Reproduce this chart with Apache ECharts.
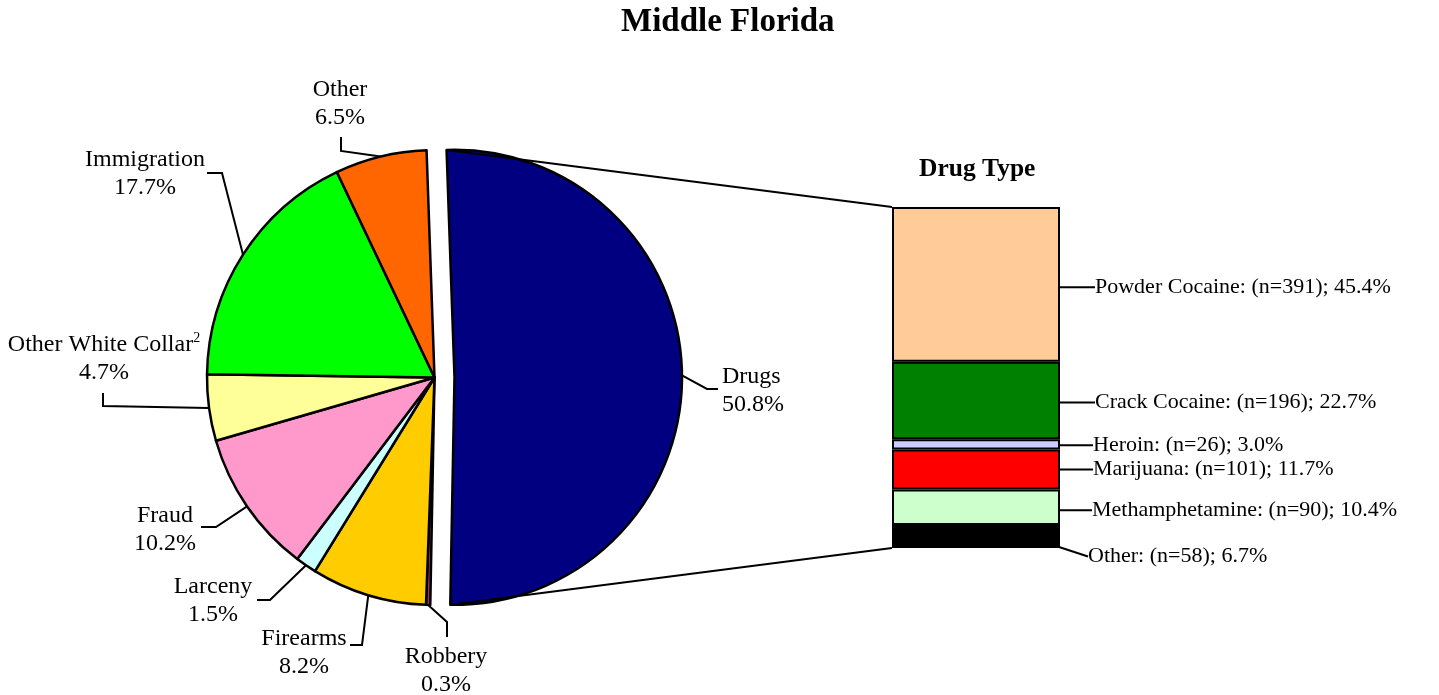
<!DOCTYPE html>
<html><head><meta charset="utf-8">
<script src="https://cdn.jsdelivr.net/npm/echarts@6/dist/echarts.min.js"></script>
<style>html,body{margin:0;padding:0;background:#fff}#c{width:1439px;height:695px}</style>
</head><body><div id="c"></div>
<script>
// ---- data ----
const offenseNames = ['Drugs','Robbery','Firearms','Larceny','Fraud','Other White Collar','Immigration','Other'];
const offensePct = [50.8,0.3,8.2,1.5,10.2,4.7,17.7,6.5];
const offenseColors = ['#000080','#993366','#FFCC00','#CCFFFF','#FF99CC','#FFFF99','#00FF00','#FF6600'];
const footnotes = {'Other White Collar':'2'};
const explodedName = 'Drugs';
const drugNames = ['Other','Methamphetamine','Marijuana','Heroin','Crack Cocaine','Powder Cocaine'];
const drugN = [58,90,101,26,196,391];
const drugPct = [6.7,10.4,11.7,3.0,22.7,45.4];
const drugColors = ['#000000','#CCFFCC','#FF0000','#CCCCFF','#008000','#FFCC99'];

// ---- layout ----
const FONT = 'Liberation Serif, Times New Roman, serif';
const PIE = {cx:434.5, cy:377.5, r:227.5, start:92, offset:20};
const GRID = {left:892, top:207, width:168, height:341};
const pieLabelCfg = {
  'Drugs':             {x:722, y:391, align:'left',   elbow:[707,389], end:[718,389]},
  'Robbery':           {x:446, y:671, align:'center', elbow:[447,622], end:[447,637]},
  'Firearms':          {x:304, y:653, align:'center', elbow:[362,645], end:[350,645]},
  'Larceny':           {x:213, y:601, align:'center', elbow:[270,600], end:[257,600]},
  'Fraud':             {x:165, y:530, align:'center', elbow:[216,527], end:[201,527]},
  'Other White Collar':{x:104, y:359, align:'center', elbow:[103,406], end:[103,393]},
  'Immigration':       {x:145, y:174, align:'center', elbow:[222,173], end:[207,173]},
  'Other':             {x:340, y:104, align:'center', elbow:[341,151], end:[341,137]}
};
const barLabelCfg = {
  'Powder Cocaine':  {lx:35, dy:3},
  'Crack Cocaine':   {lx:35, dy:2},
  'Heroin':          {lx:33, dy:1},
  'Marijuana':       {lx:33, dy:0},
  'Methamphetamine': {lx:32, dy:3},
  'Other':           {lx:28, dy:20, bend:[20,20], y0:5}
};

const offTotal = offensePct.reduce((a,b)=>a+b,0);
const drugTotal = drugN.reduce((a,b)=>a+b,0);
const exIdx = offenseNames.indexOf(explodedName);
// slice angles
const sliceGeo = [];
(function(){ let acc = 0; offensePct.forEach((v,i)=>{
  const s = PIE.start - acc/offTotal*360, e = s - v/offTotal*360;
  sliceGeo.push({s:s, e:e, m:(s+e)/2}); acc += v; }); })();
const exMid = sliceGeo[exIdx].m * Math.PI/180;
const exCenter = [PIE.cx + PIE.offset*Math.cos(exMid), PIE.cy - PIE.offset*Math.sin(exMid)];
function polarFrom(c, ang, rad){
  const a = ang*Math.PI/180;
  return [c[0] + rad*Math.cos(a), c[1] - rad*Math.sin(a)];
}

const labelStyle = {show:true, position:'outside', color:'#000', fontFamily:FONT, fontSize:24, lineHeight:28,
  formatter:function(p){
    const fn = footnotes[p.name];
    return p.name + (fn ? '{sup|' + fn + '}' : '') + '\n' + p.value.toFixed(1) + '%';
  },
  rich:{sup:{fontFamily:FONT, fontSize:14, verticalAlign:'top', lineHeight:20, color:'#000'}}
};
function pieLayout(center){
  return function(p){
    const nm = offenseNames[p.dataIndex], c = pieLabelCfg[nm], g = sliceGeo[p.dataIndex];
    const p0 = polarFrom(center, g.m, PIE.r);
    return {x:c.x, y:c.y, align:c.align, verticalAlign:'middle', labelLinePoints:[p0, c.elbow, c.end]};
  };
}
function pieSeries(showExploded, center){
  return {
    type:'pie', center:center, radius:PIE.r, startAngle:PIE.start, clockwise:true,
    avoidLabelOverlap:false, animation:false, emphasis:{disabled:true}, silent:true,
    data: offenseNames.map((nm,i)=>{
      const visible = (i===exIdx) === showExploded;
      return {name:nm, value:offensePct[i],
        itemStyle: visible ? {color:offenseColors[i], borderColor:'#000', borderWidth:2.5}
                           : {color:'rgba(0,0,0,0)', borderWidth:0},
        label: visible ? {} : {show:false},
        labelLine: visible ? {} : {show:false}};
    }),
    label:labelStyle,
    labelLine:{show:true, length:10, length2:10, lineStyle:{color:'#000', width:2}},
    labelLayout:pieLayout(center)
  };
}

const chart = echarts.init(document.getElementById('c'), null, {renderer:'canvas'});
const barSeries = drugNames.map((nm,i)=>({
  type:'bar', name:nm, stack:'d', barWidth:'100%',
  data:[drugN[i]],
  itemStyle:{color:drugColors[i], borderColor:'#000', borderWidth:2},
  label:{show:true, position:'right', color:'#000', fontFamily:FONT, fontSize:22,
    formatter: nm + ': (n=' + drugN[i] + '); ' + drugPct[i].toFixed(1) + '%'},
  labelLine:{show:true, lineStyle:{color:'#000', width:2}},
  labelLayout:function(p){
    const c = barLabelCfg[nm], r = p.rect;
    const xr = r.x + r.width, cy = r.y + r.height/2;
    const pts = c.bend ? [[xr, cy + c.y0],[xr + c.bend[0], cy + c.bend[1]],[xr + c.lx - 1, cy + c.dy]]
                       : [[xr, cy],[xr + (c.lx-2)/2, cy + c.dy/2],[xr + c.lx - 2, cy + c.dy]];
    return {x: xr + c.lx, y: cy + c.dy, align:'left', verticalAlign:'middle', labelLinePoints: pts};
  },
  emphasis:{disabled:true}, animation:false
}));

chart.setOption({
  animation:false,
  backgroundColor:'#fff',
  title:[
    {text:'Middle Florida', left:621, top:6, padding:0,
      textStyle:{fontFamily:FONT, fontSize:33, fontWeight:'bold', color:'#000'}},
    {text:'Drug Type', left:919, top:156, padding:0,
      textStyle:{fontFamily:FONT, fontSize:25.5, fontWeight:'bold', color:'#000'}}
  ],
  grid:{left:GRID.left, top:GRID.top, width:GRID.width, height:GRID.height},
  xAxis:{type:'category', data:['Drugs'], show:false},
  yAxis:{type:'value', min:0, max:drugTotal, show:false},
  series:[pieSeries(false, [PIE.cx, PIE.cy]), pieSeries(true, exCenter)].concat(barSeries)
});

// connector lines from exploded slice to the bar
const d = sliceGeo[exIdx];
const topPt = polarFrom(exCenter, d.s, PIE.r);
const botPt = polarFrom(exCenter, d.e, PIE.r);
const yTop = chart.convertToPixel({yAxisIndex:0}, drugTotal);
const yBot = chart.convertToPixel({yAxisIndex:0}, 0);
chart.setOption({graphic:[
  {type:'line', shape:{x1:topPt[0], y1:topPt[1], x2:GRID.left, y2:yTop}, style:{stroke:'#000', lineWidth:2}, z:10},
  {type:'line', shape:{x1:botPt[0], y1:botPt[1], x2:GRID.left, y2:yBot}, style:{stroke:'#000', lineWidth:2}, z:10}
]});
</script></body></html>
